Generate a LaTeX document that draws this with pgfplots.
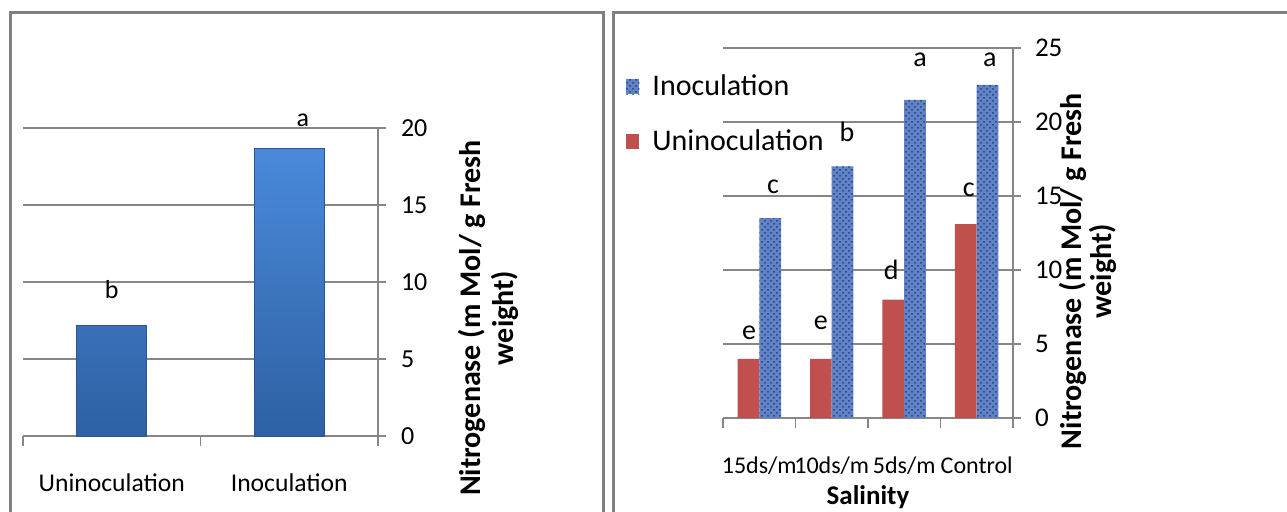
\documentclass[border=0pt]{standalone}
\usepackage{pgfplots}
\pgfplotsset{compat=1.18}
\usepackage{fontspec}
\setmainfont{Carlito}
\usetikzlibrary{patterns}
\definecolor{gridgray}{HTML}{868686}
\definecolor{framegray}{HTML}{808080}
\definecolor{redbar}{HTML}{C0504D}
\definecolor{bluetop}{HTML}{4A8ADA}
\definecolor{bluebot}{HTML}{2E60A3}
\definecolor{blueedge}{HTML}{2B5590}
\definecolor{bluetex}{HTML}{6183C6}
\definecolor{bluetexdark}{HTML}{22427F}
\begin{document}
\begin{tikzpicture}
\useasboundingbox (0,0) rectangle (643.5pt,-256pt);
\draw[framegray, line width=1.5pt] (5pt,-6.5pt) rectangle (301.5pt,-262pt);
\draw[framegray, line width=1.5pt] (306.5pt,-6.5pt) rectangle (650pt,-262pt);
\pgfplotsset{common/.style={
  scale only axis,
  font=\fontsize{13}{15}\selectfont,
  axis x line=bottom, axis y line=right,
  axis line style={gridgray, line width=0.8pt, -},
  ymajorgrids, grid style={gridgray, line width=0.8pt},
  tick align=outside,
  major tick length=4pt,
  y tick style={gridgray, line width=0.8pt},
  major x tick style={draw=none},
  minor x tick style={gridgray, line width=0.8pt},
  minor tick length=5pt,
  ymin=0,
  /pgf/number format/assume math mode=true,
  clip=false,
  every axis y label/.style={rotate=90, anchor=center, align=center, font=\fontsize{15}{16.5}\selectfont\bfseries},
}}
\begin{axis}[common, at={(11.5pt,-218pt)}, anchor=south west, width=177.5pt, height=154pt,
  xmin=0.5, xmax=2.5, ymax=20, ytick={0,5,...,20},
  yticklabel style={xshift=4pt, font=\fontsize{13}{15}\selectfont},
  xticklabel style={anchor=north, yshift=-11.5pt, font=\fontsize{12.8}{15}\selectfont},
  xtick={1,2}, xticklabels={Uninoculation, Inoculation}, minor xtick={0.5,1.5,2.5},
  ylabel={Nitrogenase (m Mol/ g Fresh\\weight)},
  ylabel style={at={(axis description cs:1.312,0.383)}}]
\addplot[ybar, bar width=0.394, draw=blueedge, top color=bluetop, bottom color=bluebot] coordinates {(1,7.2) (2,18.7)};
\node at (axis cs:1,9.5) {b};
\node at (axis cs:2.077,20.5) {a};
\end{axis}
\begin{axis}[common, at={(361.5pt,-209pt)}, anchor=south west, width=145pt, height=185pt,
  xmin=0.5, xmax=4.5, ymax=25, ytick={0,5,...,25},
  yticklabel style={xshift=3.5pt, font=\fontsize{13.5}{15}\selectfont},
  xticklabel style={anchor=north, yshift=-12pt, font=\fontsize{12}{14}\selectfont},
  xtick={1,2,3,4}, xticklabels={15ds/m,10ds/m,5ds/m,Control}, minor xtick={0.5,1.5,2.5,3.5,4.5},
  ybar=0pt, bar width=0.3,
  xlabel={Salinity}, xlabel style={at={(axis description cs:0.5,0)}, anchor=center, yshift=-39.5pt, font=\fontsize{13.5}{15}\selectfont\bfseries},
  ylabel={Nitrogenase (m Mol/ g Fresh\\weight)},
  ylabel style={at={(axis description cs:1.259,0.397)}, font=\fontsize{15}{15}\selectfont\bfseries},
  legend style={at={(axis description cs:-0.355,0.95)}, anchor=north west, draw=none, fill=none, row sep=11.5pt, column sep=4.5pt, font=\fontsize{15}{16}\selectfont},
  legend cell align=left, reverse legend,
  legend image code/.code={\fill[#1] (0pt,-3.8pt) rectangle (6.5pt,3.8pt);}]
\addplot[fill=redbar, draw=none] coordinates {(1,4) (2,4) (3,8) (4,13.1)};
\addplot[fill=bluetex, draw=none, postaction={pattern=crosshatch dots, pattern color=bluetexdark}] coordinates {(1,13.5) (2,17) (3,21.5) (4,22.5)};
\legend{Uninoculation, Inoculation}
\begin{scope}[font=\fontsize{14}{16}\selectfont]
\node at (axis cs:0.859,5.74) {e};
\node at (axis cs:1.19,15.6) {c};
\node at (axis cs:1.85,6.4) {e};
\node at (axis cs:2.21,19.3) {b};
\node at (axis cs:2.82,10.0) {d};
\node at (axis cs:3.22,24.2) {a};
\node at (axis cs:3.89,15.4) {c};
\node at (axis cs:4.18,24.2) {a};
\end{scope}
\end{axis}
\end{tikzpicture}
\end{document}
